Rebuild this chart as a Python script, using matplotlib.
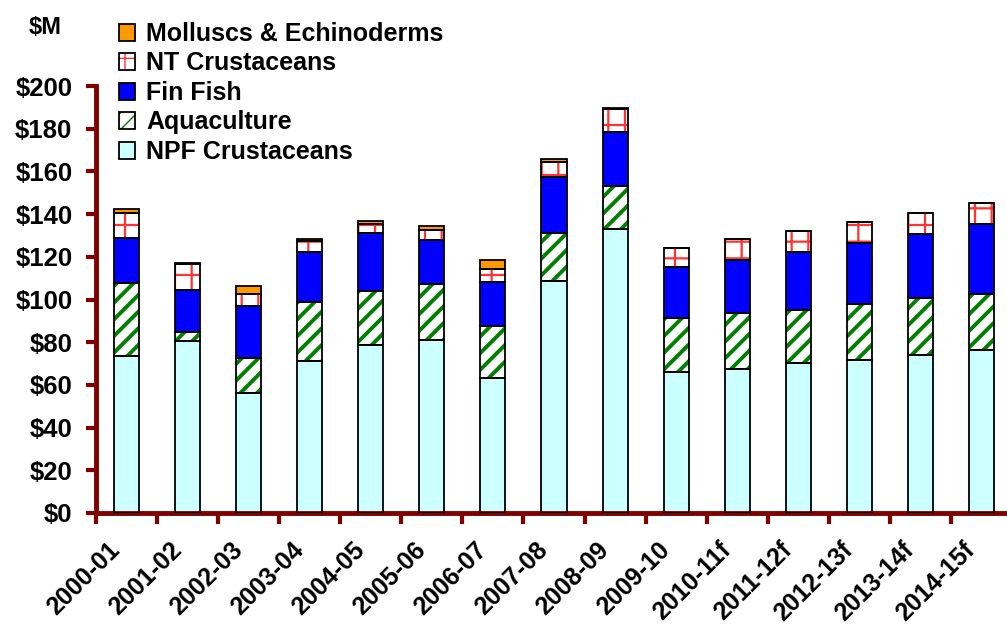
import numpy as np
import matplotlib
matplotlib.use('Agg')
import matplotlib.pyplot as plt
import matplotlib.transforms as mtransforms
from matplotlib.patches import Patch
from matplotlib.legend_handler import HandlerTuple

plt.rcParams['font.family'] = ['Liberation Sans', 'DejaVu Sans']
plt.rcParams['font.weight'] = 'bold'

years = ['2000-01', '2001-02', '2002-03', '2003-04', '2004-05', '2005-06', '2006-07',
         '2007-08', '2008-09', '2009-10', '2010-11f', '2011-12f', '2012-13f',
         '2013-14f', '2014-15f']

# $M per year, stacked bottom to top
npf_crustaceans = [73.4, 80.6, 56.2, 71.0, 78.8, 81.2, 63.3, 108.5, 132.9, 65.9, 67.5, 70.1, 71.5, 74.2, 76.5]
aquaculture = [34.3, 4.2, 16.4, 27.7, 25.3, 26.1, 24.5, 22.8, 20.1, 25.5, 26.2, 25.2, 26.3, 26.3, 26.3]
fin_fish = [21.3, 19.6, 24.3, 23.7, 26.9, 20.6, 20.5, 26.3, 25.3, 23.8, 24.6, 27.1, 28.7, 30.0, 32.7]
nt_crustaceans = [11.4, 12.1, 5.9, 5.2, 4.2, 4.8, 6.0, 6.6, 10.9, 8.9, 9.9, 9.7, 9.8, 9.9, 9.7]
molluscs = [1.9, 0.5, 3.5, 0.6, 1.7, 1.9, 4.0, 1.5, 0.3, 0, 0, 0, 0, 0, 0]

series = [
    ('NPF Crustaceans', npf_crustaceans, '#CCFFFF', None, None, 0),
    ('Aquaculture', aquaculture, 'white', '//', '#008000', 2.8),
    ('Fin Fish', fin_fish, '#0000FF', None, None, 0),
    ('NT Crustaceans', nt_crustaceans, 'white', '+', '#FF3333', 1.6),
    ('Molluscs & Echinoderms', molluscs, '#FF9900', None, None, 0),
]

axis_red = '#800000'
x = np.arange(len(years)) + 0.5
width = 0.41

fig = plt.figure(figsize=(10.07, 6.28), dpi=100)
ax = fig.add_axes([96 / 1007, 115 / 628, 916 / 1007, 427 / 628])

bottom = np.zeros(len(years))
handles = []
for name, vals, face, hatch, hcolor, hlw in series:
    vals = np.array(vals)
    if hatch:
        with plt.rc_context({'hatch.linewidth': hlw}):
            bars = ax.bar(x, vals, width, bottom=bottom, color=face, hatch=hatch,
                          edgecolor=hcolor, linewidth=0, zorder=2)
            for b in bars:
                if hasattr(b, 'set_hatch_linewidth'):
                    b.set_hatch_linewidth(hlw)
            hp = Patch(facecolor=face, hatch=hatch, edgecolor=hcolor, linewidth=0)
            if hasattr(hp, 'set_hatch_linewidth'):
                hp.set_hatch_linewidth(hlw)
    else:
        ax.bar(x, vals, width, bottom=bottom, color=face, linewidth=0, zorder=2)
        hp = Patch(facecolor=face, linewidth=0)
    ax.bar(x, vals, width, bottom=bottom, fill=False, edgecolor='black',
           linewidth=1.3, zorder=3)
    outline = Patch(fill=False, edgecolor='black', linewidth=1.3)
    handles.append(((hp, outline), name))
    bottom += vals

ax.set_xlim(0, len(years))
ax.set_ylim(0, 200)

for side in ['top', 'right']:
    ax.spines[side].set_visible(False)
for side in ['left', 'bottom']:
    ax.spines[side].set_color(axis_red)
    ax.spines[side].set_linewidth(3.5)

ax.set_yticks(np.arange(0, 201, 20))
ax.set_yticklabels(['$%d' % v for v in range(0, 201, 20)])
ax.tick_params(axis='y', length=7, width=3, color=axis_red, pad=10, labelsize=18.5)

# ticks at category boundaries, labels at category centres
ax.set_xticks(np.arange(len(years)))
ax.set_xticklabels([])
ax.set_xticks(x, minor=True)
ax.set_xticklabels(years, minor=True, rotation=45, ha='right', va='center',
                   rotation_mode='anchor', fontsize=18)
ax.tick_params(axis='x', which='major', length=8, width=3, color=axis_red)
ax.tick_params(axis='x', which='minor', length=0, pad=24)
shift = mtransforms.ScaledTranslation(-10 / 100, 0, fig.dpi_scale_trans)
for lab in ax.get_xticklabels(minor=True):
    lab.set_transform(lab.get_transform() + shift)

fig.text(45 / 1007, 1 - 27 / 628, '$M', fontsize=17, fontweight='bold',
         ha='center', va='center')

leg = ax.legend([h for h, _ in handles[::-1]], [n for _, n in handles[::-1]],
                handler_map={tuple: HandlerTuple(ndivide=1)},
                loc='upper left', bbox_to_anchor=(119 / 1007, 1 - 22 / 628),
                bbox_transform=fig.transFigure, frameon=False, fontsize=18,
                handlelength=0.65, handleheight=0.65, handletextpad=0.45,
                labelspacing=0.22, borderpad=0, borderaxespad=0)
leg.set_zorder(5)

fig.savefig('out.png', dpi=100)
